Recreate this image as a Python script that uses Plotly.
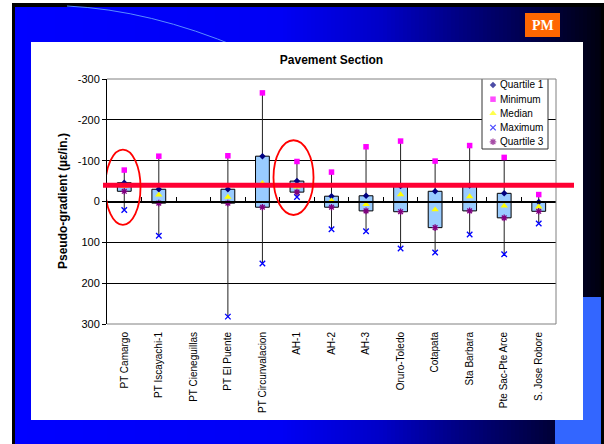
import plotly.graph_objects as go

# ---------------- data ----------------
categories = ["PT Camargo", "PT Iscayachi-1", "PT Cieneguillas", "PT El Puente",
              "PT Circunvalacion", "AH-1", "AH-2", "AH-3", "Oruro-Toledo",
              "Cotapata", "Sta Barbara", "Pte Sac-Pte Arce", "S. Jose Robore"]
quartile1 = [-46, -30, None, -30, -111, -50, -13, -14, -38, -25, -39, -20, 1]
minimum   = [-77, -111, None, -112, -266, -98, -72, -134, -148, -99, -137, -108, -17]
median    = [-37, -16, None, -11, -45, -36, -2, 7, -17, 20, -12, 11, 13]
maximum   = [21, 84, None, 282, 152, -11, 68, 73, 115, 125, 81, 129, 54]
quartile3 = [-25, 4, None, 4, 14, -23, 14, 23, 25, 64, 23, 40, 24]
threshold = -40
y_ticks = [-300, -200, -100, 0, 100, 200, 300]
y_tick_labels = ["-300", "-200", "-100", "0", "100", "200", "300"]
legend_names = ["Quartile 1", "Minimum", "Median", "Maximum", "Quartile 3"]

# ---------------- geometry helpers ----------------
W, H = 604, 444
L, R, T, B = 107, 48, 79, 120
PW = W - L - R
PH = H - T - B
FONT = "Arial, Liberation Sans, sans-serif"


def px(x):
    return (x - L) / PW


def py(y):
    return (H - B - y) / PH


fig = go.Figure()

# whiskers (min->Q1 and Q3->max)
wx, wy = [], []
for c, mn, q1, q3, mx in zip(categories, minimum, quartile1, quartile3, maximum):
    if mn is None:
        continue
    wx += [c, c, None, c, c, None]
    wy += [mn, q1, None, q3, mx, None]
fig.add_trace(go.Scatter(x=wx, y=wy, mode="lines", line=dict(color="#222222", width=1),
                         showlegend=False, hoverinfo="skip"))

# boxes Q1..Q3
heights = [None if (a is None or b is None) else b - a for a, b in zip(quartile1, quartile3)]
fig.add_trace(go.Bar(x=categories, y=heights, base=quartile1, width=0.4,
                     marker=dict(color="#99CCFF", line=dict(color="#000000", width=1)),
                     showlegend=False, hoverinfo="skip"))

specs = [
    ("Quartile 1", quartile1, dict(symbol="diamond", size=5, color="#000080", line=dict(width=0))),
    ("Minimum", minimum, dict(symbol="square", size=5.5, color="#FF00FF", line=dict(width=0))),
    ("Median", median, dict(symbol="triangle-up", size=6.5, color="#FFFF00", line=dict(width=0))),
    ("Maximum", maximum, dict(symbol="x-thin", size=5.5, color="#0000FF", line=dict(color="#0000FF", width=1.3))),
    ("Quartile 3", quartile3, dict(symbol="asterisk", size=5.5, color="#800080", line=dict(color="#800080", width=1.3))),
]
for name, vals, mk in specs:
    fig.add_trace(go.Scatter(x=categories, y=vals, mode="markers", name=name, marker=mk,
                             showlegend=False, cliponaxis=False))

# dummy trace to create the zero-line axis (x2)
fig.add_trace(go.Scatter(x=[None], y=[None], xaxis="x2", yaxis="y", showlegend=False, hoverinfo="skip"))

# manual legend: box + glyphs (pixel-space axis x3/y3)
lx0, lx1, ly0, ly1 = 482, 548, 77, 149
fig.add_trace(go.Scatter(x=[lx0, lx1, lx1, lx0, lx0], y=[ly0, ly0, ly1, ly1, ly0],
                         xaxis="x3", yaxis="y3", mode="lines", fill="toself", fillcolor="#FFFFFF",
                         line=dict(color="#333333", width=1), showlegend=False, hoverinfo="skip",
                         cliponaxis=False))
leg_y = [85 + 14.2 * i for i in range(5)]
fig.add_trace(go.Scatter(
    x=[493] * 5, y=leg_y, xaxis="x3", yaxis="y3", mode="markers", showlegend=False,
    hoverinfo="skip", cliponaxis=False,
    marker=dict(symbol=[s[2]["symbol"] for s in specs],
                size=[s[2]["size"] for s in specs],
                color=[s[2]["color"] for s in specs],
                line=dict(color=["rgba(0,0,0,0)", "rgba(0,0,0,0)", "rgba(0,0,0,0)", "#0000FF", "#800080"],
                          width=[0, 0, 0, 1.3, 1.3]))))

shapes = []
# ---------------- slide background ----------------
shapes.append(dict(type="rect", xref="paper", yref="paper", x0=px(12), x1=px(604), y0=py(444), y1=py(3),
                   fillcolor="#000000", line=dict(width=0), layer="below"))


def blue_at(x):
    stops = [(15, 255), (280, 245), (380, 200), (460, 130), (530, 75), (601, 15)]
    for (x0, b0), (x1, b1) in zip(stops[:-1], stops[1:]):
        if x <= x1:
            t = (x - x0) / (x1 - x0)
            return int(round(b0 + (b1 - b0) * max(0, t)))
    return stops[-1][1]


step = 4
x = 15
while x < 601:
    x1 = min(x + step + 1, 601)
    shapes.append(dict(type="rect", xref="paper", yref="paper", x0=px(x), x1=px(x1), y0=py(444), y1=py(7),
                       fillcolor="rgb(0,0,%d)" % blue_at(x + step / 2), line=dict(width=0), layer="below"))
    x += step


def pth(pts):
    (a, b), (c, d), (e, f) = pts
    return "M %f %f Q %f %f %f %f" % (px(a), py(b), px(c), py(d), px(e), py(f))


# decorative arc
shapes.append(dict(type="path", xref="paper", yref="paper", path=pth([(67, 6), (150, 10), (240, 48)]),
                   line=dict(color="#5A8CFF", width=1), layer="below"))
# light blue block bottom right
shapes.append(dict(type="rect", xref="paper", yref="paper", x0=px(555), x1=px(601), y0=py(444), y1=py(297),
                   fillcolor="#3366FF", line=dict(width=0), layer="below"))
# white content area
shapes.append(dict(type="rect", xref="paper", yref="paper", x0=px(31), x1=px(583), y0=py(420), y1=py(42),
                   fillcolor="#FFFFFF", line=dict(width=0), layer="below"))
# PM badge
shapes.append(dict(type="rect", xref="paper", yref="paper", x0=px(525), x1=px(560), y0=py(37), y1=py(13),
                   fillcolor="#FF6600", line=dict(width=0), layer="below"))

# plot frame (top, right, bottom) gray
for (a, b, c, d) in [(0, 1, 1, 1), (1, 0, 1, 1), (0, 0, 1, 0)]:
    shapes.append(dict(type="line", xref="paper", yref="paper", x0=a, y0=b, x1=c, y1=d,
                       line=dict(color="#808080", width=1), layer="above"))

# threshold line
shapes.append(dict(type="line", xref="paper", yref="y", x0=px(103), x1=px(574), y0=threshold, y1=threshold,
                   line=dict(color="#FF0033", width=5), layer="above"))
# red ellipses
shapes.append(dict(type="circle", xref="x", yref="y", x0=-0.55, x1=0.47, y0=-127, y1=57,
                   line=dict(color="#FF0000", width=1.8), layer="above"))
shapes.append(dict(type="circle", xref="x", yref="y", x0=4.32, x1=5.48, y0=-150, y1=33,
                   line=dict(color="#FF0000", width=1.8), layer="above"))

annotations = []
annotations.append(dict(text="<b>PM</b>", xref="paper", yref="paper", x=px(542.5), y=py(25),
                        xanchor="center", yanchor="middle",
                        showarrow=False, font=dict(family="Liberation Serif, Times New Roman, serif",
                                                   size=14, color="#FFFFFF")))
annotations.append(dict(text="<b>Pseudo-gradient (µε/in.)</b>", xref="paper", yref="paper",
                        x=px(63), y=py(201), xanchor="center", yanchor="middle",
                        textangle=-90, showarrow=False,
                        font=dict(family=FONT, size=12, color="#000000")))
for i, nm in enumerate(legend_names):
    annotations.append(dict(text=nm, xref="paper", yref="paper", x=px(498), y=py(leg_y[i]),
                            xanchor="left", yanchor="middle", showarrow=False,
                            font=dict(family=FONT, size=10, color="#000000")))

fig.update_layout(
    width=W, height=H,
    margin=dict(l=L, r=R, t=T, b=B, pad=0),
    paper_bgcolor="#FFFFFF", plot_bgcolor="#FFFFFF",
    showlegend=False,
    barmode="overlay",
    font=dict(family=FONT, color="#000000"),
    title=dict(text="<b>Pavement Section</b>", x=px(331.5), xanchor="center", xref="paper",
               y=1 - 60 / H, yanchor="middle", yref="container",
               font=dict(family=FONT, size=12, color="#000000")),
    xaxis=dict(type="category", categoryorder="array", categoryarray=categories,
               range=[-0.5, len(categories) - 0.5], showgrid=False, zeroline=False,
               showline=False, ticks="", tickangle=-90, ticklabelstandoff=5,
               tickfont=dict(family=FONT, size=10, color="#000000")),
    xaxis2=dict(overlaying="x", anchor="free", position=0.5, side="bottom",
                range=[-0.5, len(categories) - 0.5], showgrid=False, zeroline=False,
                showline=True, linecolor="#000000", linewidth=2,
                tickmode="array", tickvals=[i - 0.5 for i in range(len(categories) + 1)],
                ticks="inside", ticklen=4, tickwidth=1, tickcolor="#000000",
                showticklabels=False),
    xaxis3=dict(overlaying="x", range=[L, W - R], visible=False),
    yaxis=dict(range=[300, -300], tickmode="array", tickvals=y_ticks, ticktext=y_tick_labels,
               showgrid=True, gridcolor="#000000", gridwidth=1, zeroline=False,
               showline=True, linecolor="#000000", linewidth=1,
               ticks="outside", ticklen=4, tickcolor="#000000",
               tickfont=dict(family=FONT, size=11, color="#000000")),
    yaxis3=dict(overlaying="y", range=[H - B, T], visible=False),
    shapes=shapes,
    annotations=annotations,
)

fig.write_html("out.html", config={"displayModeBar": False},
               post_script="document.body.style.margin='0';document.body.style.overflow='hidden';")
